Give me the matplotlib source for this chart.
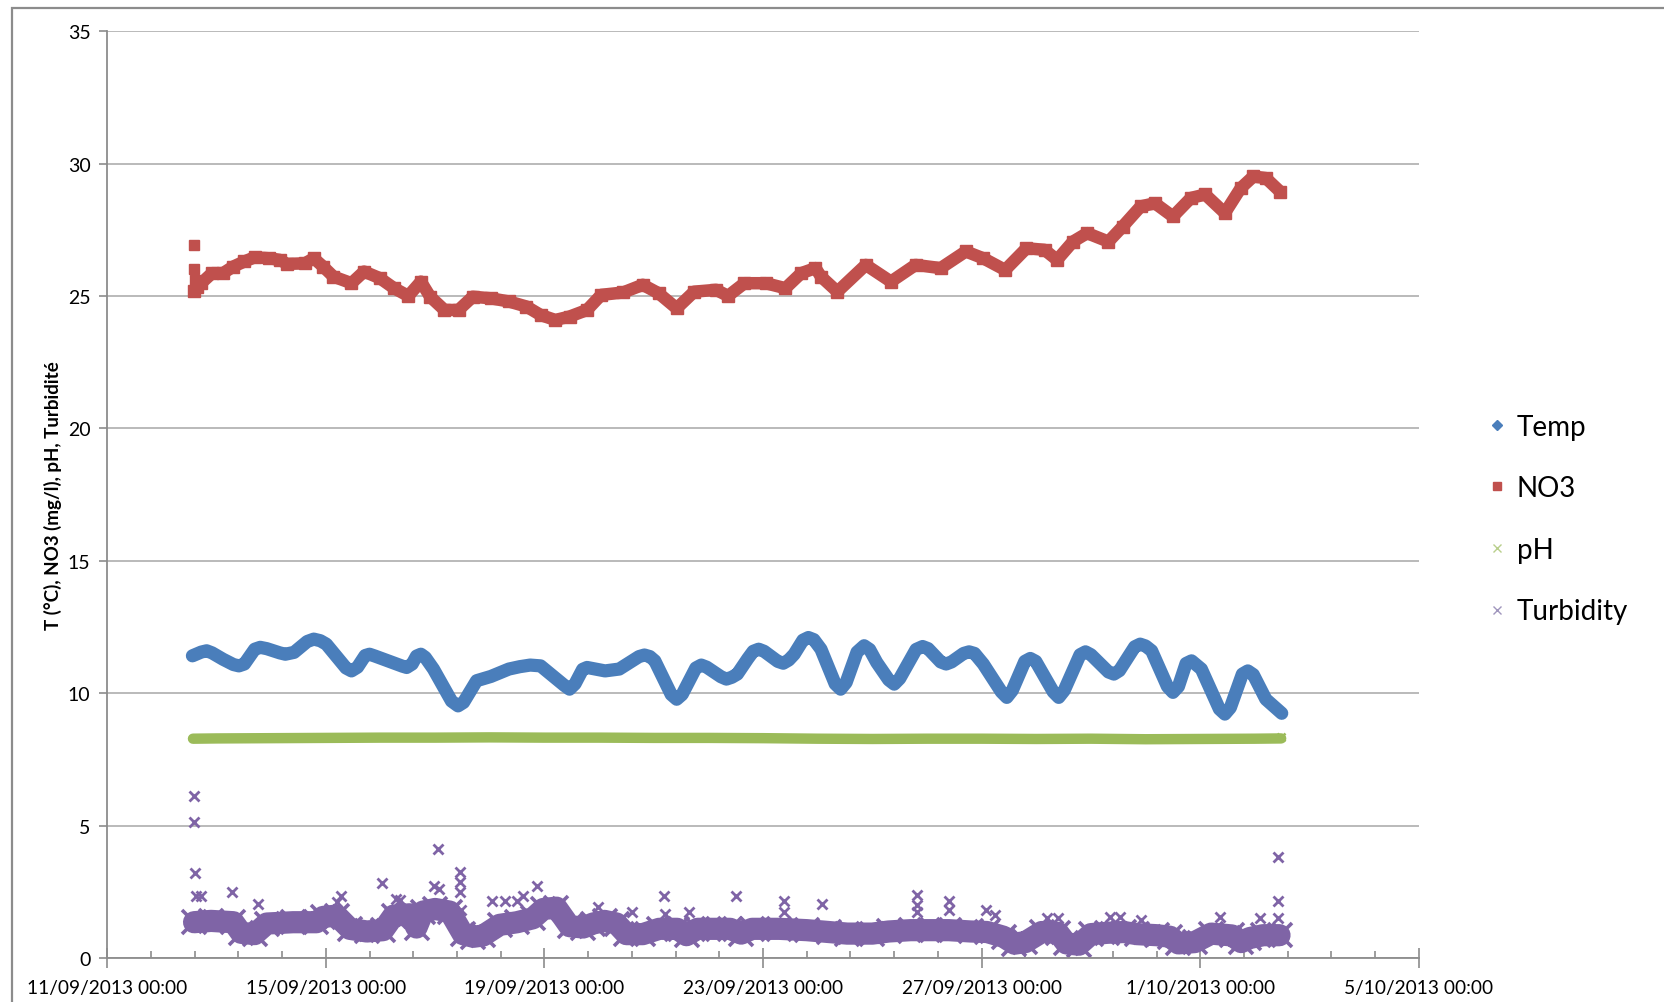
import datetime as dt
import numpy as np
import matplotlib
matplotlib.use("Agg")
import matplotlib.pyplot as plt
import matplotlib.dates as mdates
from matplotlib.lines import Line2D
from matplotlib.ticker import FuncFormatter, MultipleLocator, FixedLocator

plt.rcParams['font.family'] = ['Lato', 'DejaVu Sans']

# time in days after 11/09/2013 00:00
temp_days = [1.56, 1.72, 1.82, 1.92, 2.12, 2.31, 2.41, 2.51, 2.70, 2.80, 2.92, 3.16, 3.26,
             3.42, 3.66, 3.78, 3.90, 4.01, 4.37, 4.47, 4.58, 4.72, 4.80, 4.90, 5.19, 5.40,
             5.48, 5.58, 5.66, 5.74, 5.82, 5.97, 6.30, 6.42, 6.52, 6.76, 7.02, 7.35, 7.55,
             7.74, 7.93, 8.36, 8.46, 8.56, 8.70, 8.78, 9.11, 9.37, 9.73, 9.83, 9.93, 10.02,
             10.32, 10.42, 10.52, 10.77, 10.87, 10.97, 11.23, 11.33, 11.43, 11.53, 11.72,
             11.82, 11.92, 12.02, 12.27, 12.37, 12.47, 12.57, 12.73, 12.83, 12.93, 13.06,
             13.32, 13.42, 13.52, 13.72, 13.85, 13.95, 14.08, 14.30, 14.40, 14.50, 14.80,
             14.92, 15.02, 15.25, 15.35, 15.45, 15.67, 15.77, 15.87, 16.03, 16.36, 16.46,
             16.56, 16.79, 16.89, 16.99, 17.31, 17.41, 17.51, 17.80, 17.90, 18.00, 18.32,
             18.42, 18.52, 18.80, 18.90, 19.00, 19.11, 19.40, 19.50, 19.60, 19.74, 19.84,
             20.02, 20.35, 20.45, 20.55, 20.77, 20.87, 20.97, 21.20, 21.49]
temp_vals = [11.41, 11.55, 11.60, 11.52, 11.28, 11.08, 11.03, 11.10, 11.66, 11.73, 11.68,
             11.52, 11.47, 11.54, 11.95, 12.04, 11.98, 11.85, 10.95, 10.84, 10.98, 11.42,
             11.47, 11.40, 11.18, 11.02, 10.97, 11.10, 11.40, 11.47, 11.35, 10.91, 9.70,
             9.52, 9.65, 10.47, 10.63, 10.91, 11.00, 11.06, 11.03, 10.30, 10.15, 10.35,
             10.90, 10.97, 10.84, 10.91, 11.38, 11.44, 11.38, 11.22, 9.95, 9.77, 9.95,
             10.95, 11.06, 10.98, 10.62, 10.53, 10.60, 10.72, 11.30, 11.58, 11.66, 11.58,
             11.20, 11.13, 11.25, 11.47, 12.00, 12.10, 12.02, 11.66, 10.35, 10.15, 10.40,
             11.55, 11.79, 11.65, 11.16, 10.50, 10.34, 10.55, 11.65, 11.76, 11.68, 11.18,
             11.10, 11.18, 11.50, 11.56, 11.50, 11.10, 10.05, 9.84, 10.10, 11.20, 11.31,
             11.20, 10.05, 9.84, 10.10, 11.45, 11.56, 11.45, 10.80, 10.72, 10.85, 11.75,
             11.85, 11.78, 11.60, 10.25, 10.03, 10.25, 11.12, 11.22, 10.91, 9.40, 9.21,
             9.45, 10.72, 10.84, 10.70, 9.77, 9.24]

no3_days = [1.59, 1.65, 1.72, 1.92, 2.12, 2.31, 2.51, 2.70, 2.97, 3.16, 3.29, 3.62, 3.78,
            3.95, 4.14, 4.47, 4.70, 4.99, 5.25, 5.51, 5.74, 5.91, 6.17, 6.43, 6.69, 7.02,
            7.35, 7.67, 7.93, 8.20, 8.46, 8.78, 9.04, 9.44, 9.80, 10.09, 10.42, 10.74,
            11.14, 11.36, 11.66, 12.05, 12.41, 12.70, 12.96, 13.06, 13.36, 13.88, 14.34,
            14.79, 15.25, 15.71, 16.03, 16.43, 16.82, 17.15, 17.38, 17.67, 17.93, 18.32,
            18.58, 18.91, 19.17, 19.50, 19.83, 20.09, 20.45, 20.74, 20.97, 21.20, 21.46]
no3_vals = [25.2, 25.35, 25.48, 25.86, 25.86, 26.11, 26.30, 26.46, 26.42, 26.36, 26.21,
            26.23, 26.42, 26.11, 25.73, 25.48, 25.92, 25.67, 25.29, 25.0, 25.54, 24.97,
            24.47, 24.47, 24.97, 24.91, 24.79, 24.60, 24.28, 24.09, 24.22, 24.47, 25.04,
            25.13, 25.42, 25.10, 24.53, 25.16, 25.23, 25.0, 25.48, 25.48, 25.29, 25.86,
            26.05, 25.73, 25.16, 26.17, 25.54, 26.17, 26.05, 26.68, 26.42, 25.98, 26.80,
            26.74, 26.36, 27.05, 27.37, 27.05, 27.62, 28.38, 28.50, 28.00, 28.70, 28.83,
            28.13, 29.07, 29.51, 29.45, 28.94]
no3_spike_days = [1.59, 1.59, 1.60]
no3_spike_vals = [26.93, 26.03, 25.6]

ph_days = [1.57, 2, 3, 4, 5, 6, 7, 8, 9, 10, 11, 12, 13, 14, 15, 16, 17, 18, 19, 20, 21, 21.48]
ph_vals = [8.28, 8.29, 8.30, 8.31, 8.32, 8.32, 8.33, 8.32, 8.32, 8.31, 8.31, 8.30, 8.28,
           8.27, 8.28, 8.28, 8.27, 8.28, 8.26, 8.27, 8.28, 8.29]

turb_days = [1.59, 1.9, 2.31, 2.45, 2.7, 2.92, 3.4, 3.83, 3.95, 4.2, 4.44, 4.75, 5.05, 5.24,
             5.54, 5.66, 5.78, 6.0, 6.27, 6.51, 6.7, 6.88, 7.18, 7.5, 7.79, 7.98, 8.22,
             8.46, 8.71, 8.89, 9.1, 9.32, 9.5, 9.8, 10.1, 10.43, 10.6, 10.8, 11.1, 11.4,
             11.6, 11.8, 12.3, 12.8, 13.2, 13.54, 14.0, 14.3, 14.7, 15.05, 15.4, 15.8, 16.1,
             16.4, 16.6, 16.8, 17.1, 17.4, 17.55, 17.78, 18.0, 18.3, 18.6, 18.84, 19.2,
             19.45, 19.6, 19.9, 20.2, 20.58, 20.75, 20.9, 21.15, 21.45]
turb_vals = [1.35, 1.4, 1.35, 0.95, 0.9, 1.3, 1.35, 1.35, 1.55, 1.6, 1.1, 1.0, 1.05, 1.6,
             1.65, 1.15, 1.75, 1.85, 1.75, 0.9, 0.8, 0.85, 1.25, 1.35, 1.5, 1.85, 1.9, 1.2,
             1.15, 1.3, 1.4, 1.3, 0.9, 0.9, 1.1, 1.1, 0.86, 1.1, 1.1, 1.1, 0.92, 1.1, 1.1,
             1.05, 0.98, 0.92, 0.92, 1.0, 1.05, 1.05, 1.05, 1.0, 0.98, 0.8, 0.54, 0.6, 0.98,
             0.95, 0.55, 0.5, 0.9, 0.95, 0.98, 0.9, 0.86, 0.8, 0.55, 0.6, 0.92, 0.85, 0.6,
             0.75, 0.86, 0.86]
turb_spike_days = [1.59, 1.59, 1.60, 1.62, 1.72, 2.29, 2.76, 4.28, 4.2, 5.03, 5.29, 5.35,
                   6.06, 6.08, 5.98, 6.45, 6.45, 6.45, 6.47, 7.05, 7.28, 7.49, 7.61, 7.87,
                   8.98, 9.6, 10.19, 10.2, 10.64, 11.5, 12.38, 12.38, 13.08, 14.81, 14.81,
                   14.82, 15.4, 15.4, 16.08, 16.25, 17.2, 17.4, 18.35, 18.54, 18.92, 20.36,
                   21.09, 21.42, 21.42, 21.42]
turb_spike_vals = [6.1, 5.12, 3.22, 2.33, 2.33, 2.49, 2.03, 2.33, 2.1, 2.83, 2.24, 2.2,
                   4.10, 2.59, 2.7, 3.25, 2.87, 2.49, 1.8, 2.14, 2.14, 2.14, 2.34, 2.71,
                   1.93, 1.74, 2.33, 1.67, 1.74, 2.33, 2.14, 1.74, 2.03, 2.37, 1.99, 1.74,
                   2.14, 1.8, 1.83, 1.64, 1.51, 1.51, 1.55, 1.55, 1.42, 1.55, 1.51, 3.82,
                   2.14, 1.51]

series_names = ['Temp', 'NO3', 'pH', 'Turbidity']
c_temp, c_no3, c_ph, c_turb = '#4a7ebb', '#c0504d', '#9bbb59', '#7f64a6'

t0 = mdates.date2num(dt.datetime(2013, 9, 11))
def tx(days):
    return t0 + np.asarray(days)

fig = plt.figure(figsize=(16.64, 10.03), dpi=100)
ax = fig.add_axes([0.0644, 0.0439, 0.7883, 0.9241])

# outer chart border
fig.add_artist(plt.Rectangle((12 / 1664, -0.05), 1.2, 1 - 9 / 1003 + 0.05,
                             transform=fig.transFigure, fill=False,
                             edgecolor='#8c8c8c', lw=1.6))

ax.plot(tx(turb_days), turb_vals, '-', color=c_turb, lw=16, solid_capstyle='round',
        solid_joinstyle='round', zorder=2)
ax.plot(tx(turb_days), turb_vals, 'x', color=c_turb, ms=17, mew=2.6, zorder=2)
ax.plot(tx(turb_spike_days), turb_spike_vals, 'x', color=c_turb, ms=7.5, mew=2, zorder=2)

ax.plot(tx(ph_days), ph_vals, '-', color=c_ph, lw=7.5, solid_capstyle='round', zorder=3)
ax.plot(tx(ph_days[-1:]), [8.36], 'x', color=c_ph, ms=6, mew=1.8, zorder=3)

ax.plot(tx(temp_days), temp_vals, '-', color=c_temp, lw=9.5, solid_capstyle='round',
        solid_joinstyle='round', zorder=4)

ax.plot(tx(no3_days), no3_vals, '-', color=c_no3, lw=9, solid_capstyle='butt',
        solid_joinstyle='round', zorder=4)
ax.plot(tx(no3_days), no3_vals, 's', color=c_no3, ms=8.5, zorder=4)
ax.plot(tx(no3_spike_days), no3_spike_vals, 's', color=c_no3, ms=7, zorder=4)

ax.set_ylim(0, 35)
ax.set_xlim(t0, t0 + 24)
ax.yaxis.set_major_locator(MultipleLocator(5))
ax.xaxis.set_major_locator(FixedLocator(t0 + np.arange(0, 25, 4)))
ax.xaxis.set_minor_locator(FixedLocator(t0 + np.arange(0, 24.01, 0.8)))

def date_label(v, pos):
    d = mdates.num2date(v)
    return f"{d.day}/{d:%m/%Y %H:%M}"
ax.xaxis.set_major_formatter(FuncFormatter(date_label))

ax.grid(axis='y', color='#b4b4b4', lw=1.3, zorder=0)
ax.set_axisbelow(True)
for s in ['top', 'right']:
    ax.spines[s].set_visible(False)
for s in ['left', 'bottom']:
    ax.spines[s].set_color('#8c8c8c')
    ax.spines[s].set_linewidth(1.3)
ax.tick_params(axis='y', which='major', length=6, width=1.2, color='#8c8c8c',
               labelsize=14, pad=6)
ax.tick_params(axis='x', which='major', direction='inout', length=14, width=1.2,
               color='#8c8c8c', labelsize=13.8, pad=8)
ax.tick_params(axis='x', which='minor', direction='in', length=5, width=1.2,
               color='#8c8c8c')

ax.set_ylabel('T (°C), NO3 (mg/l), pH, Turbidité', fontsize=13.5, fontweight='bold',
              labelpad=4)

handles = [
    Line2D([], [], ls='', marker='D', ms=5, color=c_temp),
    Line2D([], [], ls='', marker='s', ms=6, color=c_no3),
    Line2D([], [], ls='', marker='x', ms=6, mew=1, color='#b9cf8c'),
    Line2D([], [], ls='', marker='x', ms=6, mew=1, color='#a096bd'),
]
ax.legend(handles, series_names, loc='center left', bbox_to_anchor=(0.894, 0.4816),
          bbox_transform=fig.transFigure, frameon=False, fontsize=20, handlelength=0.7,
          handletextpad=0.35, labelspacing=1.28, borderpad=0, borderaxespad=0)

fig.savefig('out.png', dpi=100)
